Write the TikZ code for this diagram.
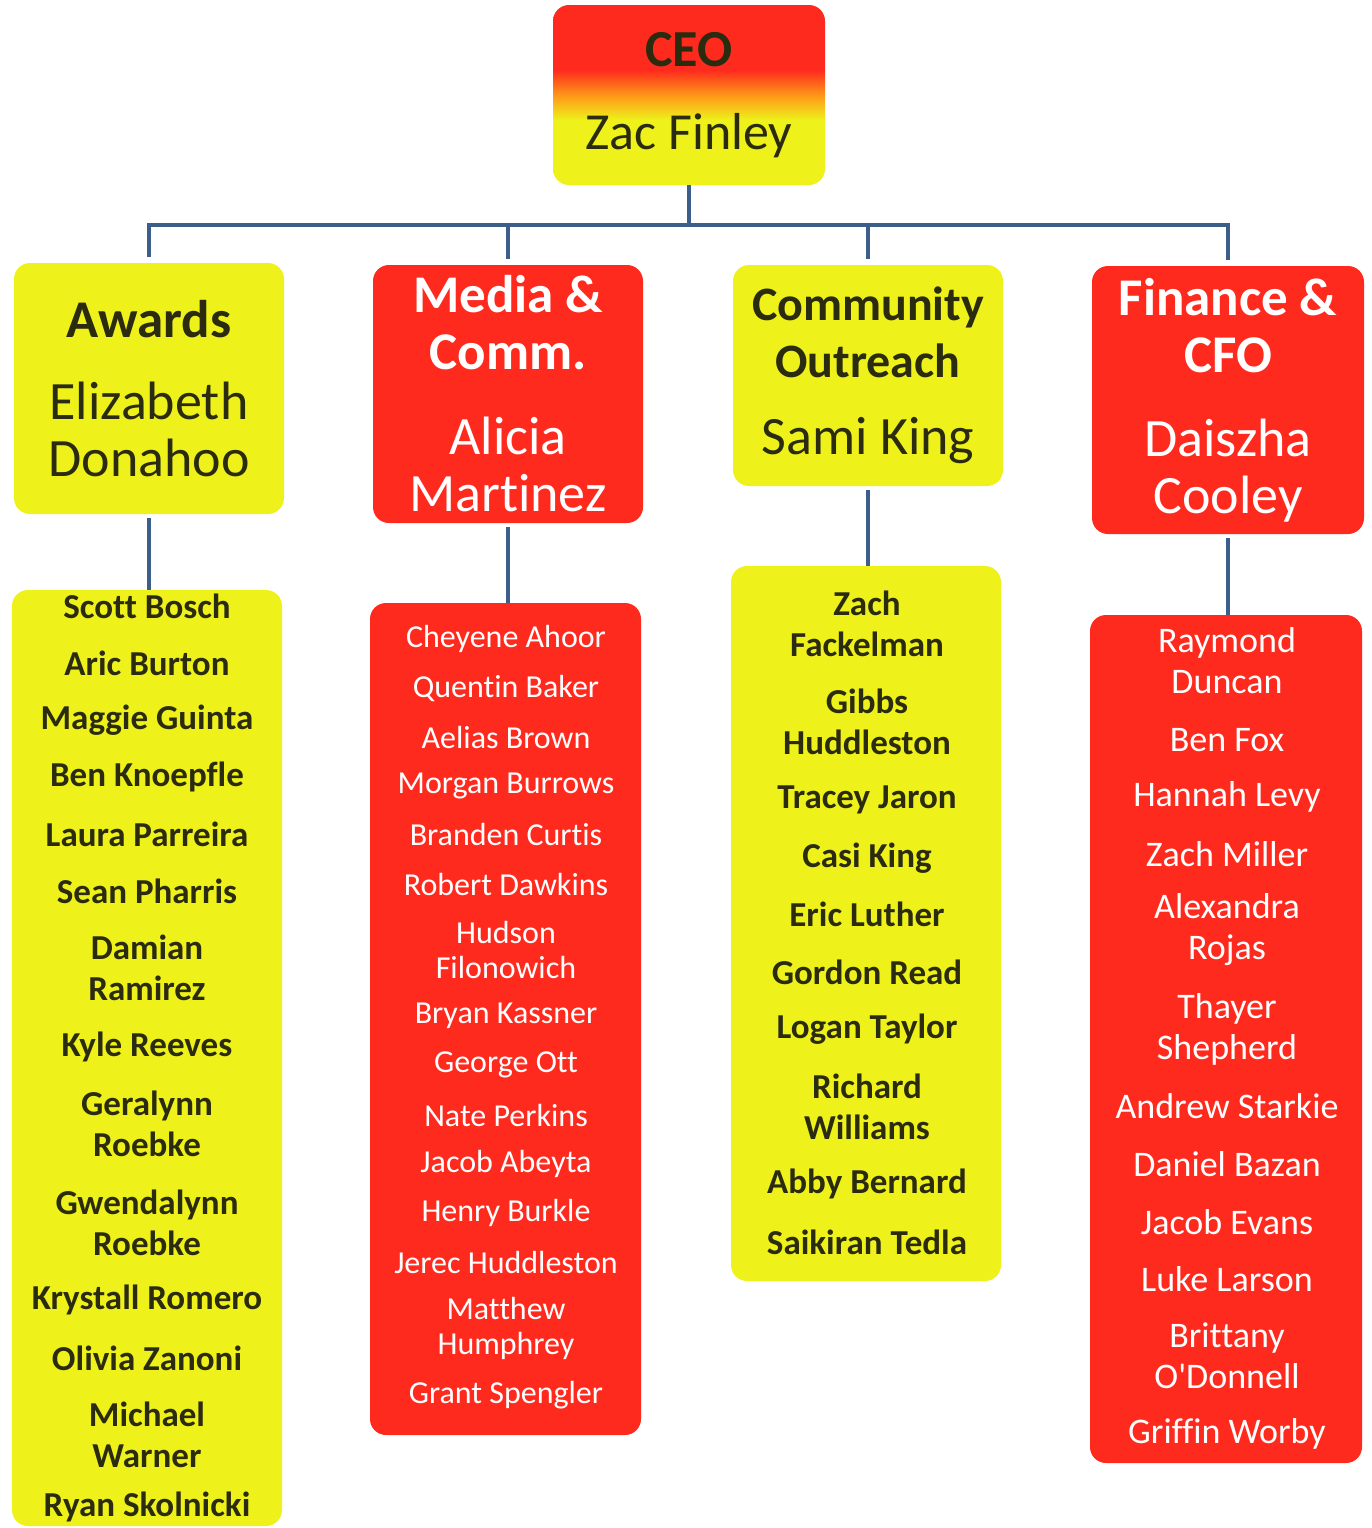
\documentclass[tikz,border=0pt]{standalone}
\usepackage{fontspec}
\setmainfont{Carlito}[Ligatures={NoCommon}]
\usepackage{xcolor}

\definecolor{chartyellow}{RGB}{238,242,26}
\definecolor{chartred}{RGB}{255,42,30}
\definecolor{chartorange}{RGB}{255,150,25}
\definecolor{charttext}{RGB}{43,43,15}
\definecolor{chartline}{RGB}{59,95,138}
\pgfdeclareverticalshading{ceofade}{100bp}{color(0bp)=(chartyellow); color(43bp)=(chartyellow); color(50bp)=(chartorange); color(57bp)=(chartred); color(100bp)=(chartred)}

\begin{document}
\begin{tikzpicture}[x=0.5pt,y=-0.5pt,
		box/.style={rounded corners=8pt, inner sep=0pt, align=center, minimum width=135pt},
		yelbox/.style={box, fill=chartyellow, text=charttext},
		redbox/.style={box, fill=chartred, text=white},
		dept/.style={font=\fontsize{27}{28.5}\selectfont},
		head/.style={font=\fontsize{26.5}{28.5}\selectfont\bfseries},
		yelmem/.style={inner sep=0pt, align=center, text=charttext, font=\fontsize{17.5}{20.5}\selectfont\bfseries},
		redmem/.style={inner sep=0pt, align=center, text=white, font=\fontsize{16}{17.5}\selectfont},
		finmem/.style={inner sep=0pt, align=center, text=white, font=\fontsize{18}{20.5}\selectfont},
		orgline/.style={draw=chartline, line width=2pt}]
		\useasboundingbox (0,0) rectangle (1372,1528);
		\node[box, shading=ceofade, text=charttext, minimum width=136pt, minimum height=90pt, font=\fontsize{26}{29}\selectfont] (ceo) at (689,95) {\textbf{CEO}\\[12.5pt]Zac Finley};
		\node[yelbox, dept, minimum height=125.5pt] (awards) at (149,388.5) {{\fontsize{26.5}{28.5}\selectfont\bfseries Awards}\\[12.5pt]Elizabeth\\Donahoo};
		\node[redbox, dept, minimum height=129pt] (media) at (508,394) {{\fontsize{26.5}{28.5}\selectfont\bfseries Media \&}\\{\fontsize{26.5}{28.5}\selectfont\bfseries Comm.}\\[14pt]Alicia\\Martinez};
		\node[yelbox, dept, minimum height=110.5pt] (outreach) at (868,375.5) {{\fontsize{24}{28.5}\selectfont\bfseries Community}\\{\fontsize{24}{28.5}\selectfont\bfseries Outreach}\\[10pt]Sami King};
		\node[redbox, dept, minimum width=136pt, minimum height=134pt] (finance) at (1228,400) {{\fontsize{26.5}{28.5}\selectfont\bfseries Finance \&}\\{\fontsize{26.5}{28.5}\selectfont\bfseries CFO}\\[13.5pt]Daiszha\\Cooley};
		\node[yelbox, minimum height=468pt] (awardslist) at (147,1058) {};
		\node[redbox, minimum width=135.5pt, minimum height=416pt] (medialist) at (505.5,1019) {};
		\node[yelbox, minimum height=357.5pt] (outreachlist) at (866,923.5) {};
		\node[redbox, minimum width=136pt, minimum height=424pt] (financelist) at (1226,1039) {};
		\foreach \dep in {awards,media,outreach,finance}
			\draw[orgline, shorten >=3pt] (ceo.south) -- ++(0,40) -| (\dep.north);
		\foreach \dep in {awards,media,outreach,finance}
			\draw[orgline, shorten <=2pt] (\dep.south) -- (\dep.south |- \dep list.north);
		\foreach \y/\name [count=\i] in {606/Scott Bosch, 663/Aric Burton, 720/Maggie Guinta, 777/Ben Knoepfle, 834/Laura Parreira, 891/Sean Pharris, 968/{Damian\\Ramirez}, 1047/Kyle Reeves, 1124/{Geralynn\\Roebke}, 1223/{Gwendalynn\\Roebke}, 1300/Krystall Romero, 1358/Olivia Zanoni, 1435/{Michael\\Warner}, 1507/Ryan Skolnicki}
			\node[yelmem] (aw\i) at (147,\y) {\name};
		\foreach \y/\name [count=\i] in {639/Cheyene Ahoor, 688/Quentin Baker, 737/Aelias Brown, 786/Morgan Burrows, 834/Branden Curtis, 884/Robert Dawkins, 950/{Hudson\\Filonowich}, 1016/Bryan Kassner, 1065/George Ott, 1115/Nate Perkins, 1164/Jacob Abeyta, 1213/Henry Burkle, 1262/Jerec Huddleston, 1328/{Matthew\\Humphrey}, 1395/Grant Spengler}
			\node[redmem] (md\i) at (506,\y) {\name};
		\foreach \y/\name [count=\i] in {624/{Zach\\Fackelman}, 722/{Gibbs\\Huddleston}, 800/Tracey Jaron, 858/Casi King, 914/Eric Luther, 972/Gordon Read, 1029/Logan Taylor, 1107/{Richard\\Williams}, 1184/Abby Bernard, 1242/Saikiran Tedla}
			\node[yelmem] (co\i) at (867,\y) {\name};
		\foreach \y/\name [count=\i] in {661/{Raymond\\Duncan}, 740/Ben Fox, 797/Hannah Levy, 854/Zach Miller, 930/{Alexandra\\Rojas}, 1029/{Thayer\\Shepherd}, 1106/Andrew Starkie, 1164/Daniel Bazan, 1222/Jacob Evans, 1279/Luke Larson, 1356/{Brittany\\O\textquotesingle Donnell}, 1434/Griffin Worby}
			\node[finmem] (fi\i) at (1227,\y) {\name};
	\end{tikzpicture}
\end{document}
